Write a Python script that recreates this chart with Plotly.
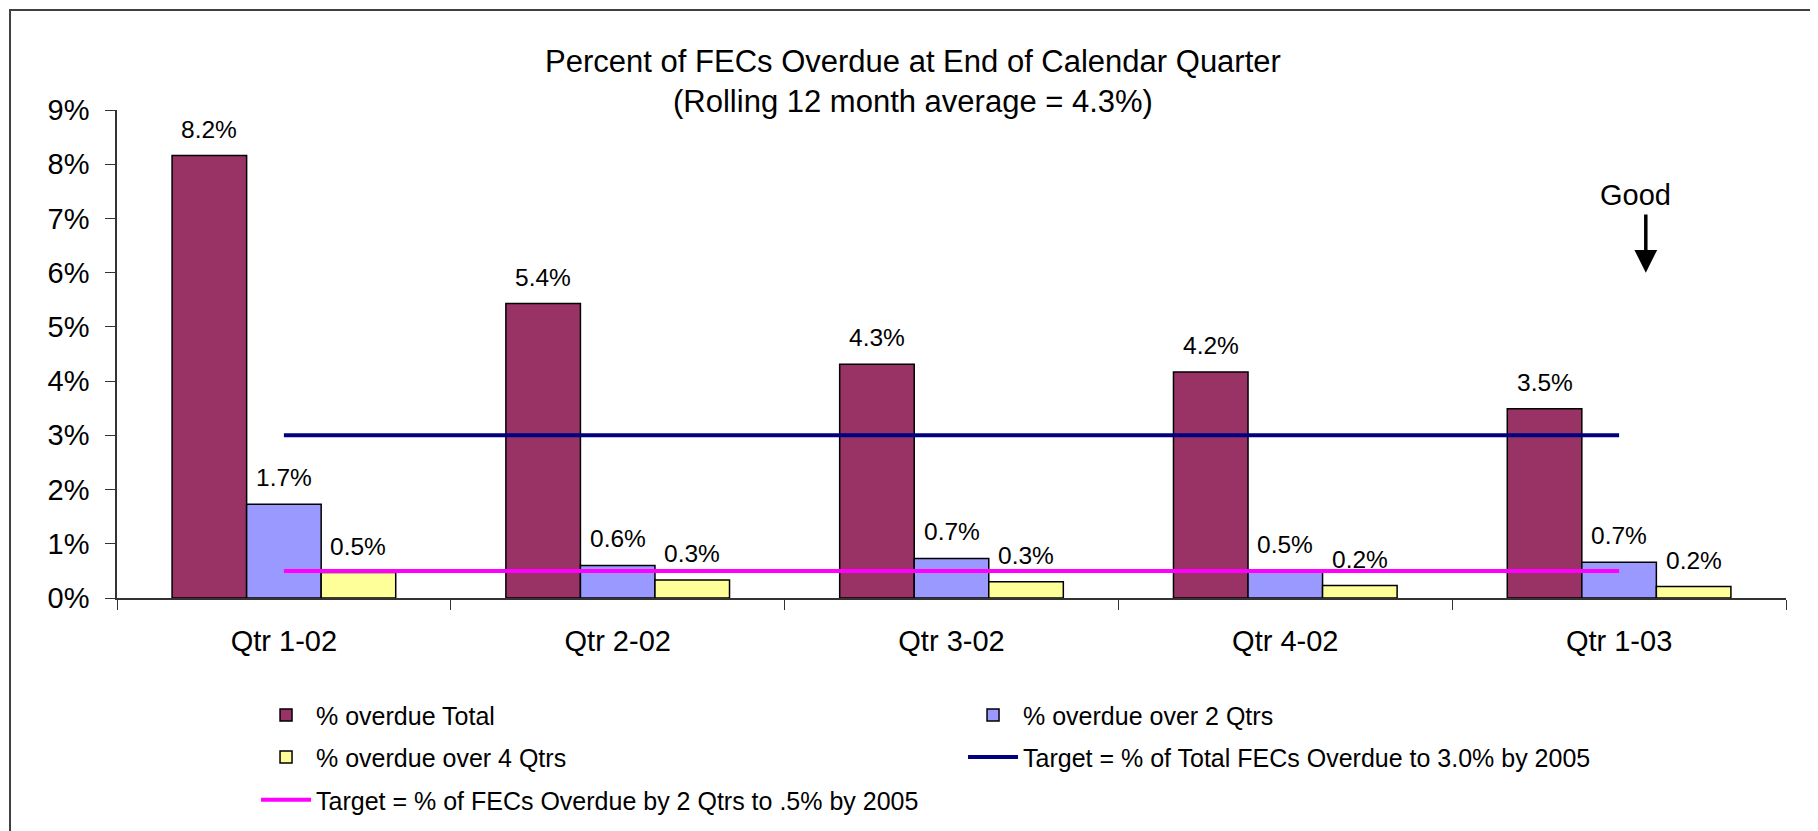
import plotly.graph_objects as go

quarters = ['Qtr 1-02', 'Qtr 2-02', 'Qtr 3-02', 'Qtr 4-02', 'Qtr 1-03']
overdue_total = [8.16, 5.43, 4.31, 4.17, 3.49]
overdue_2q = [1.73, 0.60, 0.73, 0.49, 0.66]
overdue_4q = [0.47, 0.33, 0.30, 0.23, 0.21]
target_total = [3.0, 3.0, 3.0, 3.0, 3.0]
target_2q = [0.5, 0.5, 0.5, 0.5, 0.5]

FONT = 'Liberation Sans, Arial, sans-serif'
BARGAP = 0.33

# name, values, colour, legend row
bar_series = [
    ('% overdue Total', overdue_total, '#993366', 'legend'),
    ('% overdue over 2 Qtrs', overdue_2q, '#9999FF', 'legend'),
    ('% overdue over 4 Qtrs', overdue_4q, '#FFFF99', 'legend2'),
]

fig = go.Figure()
for name, vals, color, leg in bar_series:
    fig.add_trace(go.Bar(x=quarters, y=vals, name=name, legend=leg,
                         marker=dict(color=color, line=dict(color='black', width=1.5))))

fig.add_trace(go.Scatter(x=quarters, y=target_total, mode='lines', legend='legend2',
                         name='Target = % of Total FECs Overdue to 3.0% by 2005',
                         line=dict(color='#000080', width=4)))
fig.add_trace(go.Scatter(x=quarters, y=target_2q, mode='lines', legend='legend3',
                         name='Target = % of FECs Overdue by 2 Qtrs to .5% by 2005',
                         line=dict(color='#FF00FF', width=4)))

# value labels floating above each bar
bw = (1 - BARGAP) / len(bar_series)
for j, (name, vals, color, leg) in enumerate(bar_series):
    for i, v in enumerate(vals):
        fig.add_annotation(x=i + (j - 1) * bw, y=v, text=f'{v:.1f}%',
                           showarrow=False, yanchor='bottom', yshift=11,
                           font=dict(size=24.5, color='black'))

fig.add_annotation(x=4.05, y=7.43, text='Good', showarrow=False,
                   font=dict(size=29, color='black'))
fig.add_annotation(x=4.08, y=6.0, ax=4.08, ay=7.1, axref='x', ayref='y',
                   text='', showarrow=True, arrowhead=2, arrowsize=1.3,
                   arrowwidth=3.5, arrowcolor='black')

fig.add_shape(type='rect', xref='paper', yref='paper',
              x0=-0.0641, x1=1.0156, y0=-0.6, y1=1.205,
              line=dict(color='#404040', width=2), fillcolor='rgba(0,0,0,0)')

legend_style = dict(orientation='h', x=0.0833, xanchor='left', yanchor='top',
                    entrywidth=642, font=dict(size=25, family=FONT),
                    traceorder='normal', itemwidth=50)

fig.update_layout(
    width=1818, height=831,
    margin=dict(l=109, r=40, t=102, b=241),
    paper_bgcolor='white', plot_bgcolor='white',
    font=dict(family=FONT, color='black'),
    barmode='group', bargap=BARGAP, bargroupgap=0,
    title=dict(text='Percent of FECs Overdue at End of Calendar Quarter<br>(Rolling 12 month average = 4.3%)',
               x=0.4978, xref='container', xanchor='center',
               y=0.923, yref='container', yanchor='top',
               font=dict(size=31, family=FONT, color='black')),
    showlegend=True,
    legend=dict(y=-0.193, **legend_style),
    legend2=dict(y=-0.279, **legend_style),
    legend3=dict(y=-0.367, **legend_style),
)
fig.update_xaxes(showline=True, linecolor='#333333', linewidth=1.5,
                 ticks='outside', tickson='boundaries', ticklen=10, tickcolor='#333333',
                 showgrid=False, tickfont=dict(size=29), ticklabelstandoff=16)
fig.update_yaxes(range=[0, 9], dtick=1, ticksuffix='%', showline=True,
                 linecolor='#333333', linewidth=1.5, ticks='outside', ticklen=10,
                 tickcolor='#333333', showgrid=False, zeroline=False,
                 tickfont=dict(size=29), ticklabelstandoff=10)

fig.write_html('out.html')
